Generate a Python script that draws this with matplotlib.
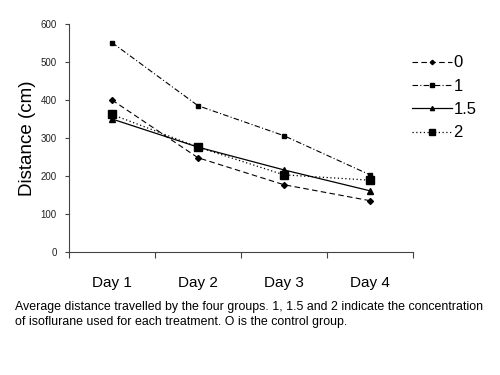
import matplotlib
matplotlib.use("Agg")
import matplotlib.pyplot as plt
from matplotlib.ticker import FixedLocator

plt.rcParams['font.family'] = ['Liberation Sans', 'DejaVu Sans']

days = ["Day 1", "Day 2", "Day 3", "Day 4"]
series_names = ["0", "1", "1.5", "2"]
s0 = [400, 248, 177, 135]
s1 = [551, 385, 306, 203]
s15 = [350, 276, 216, 161]
s2 = [362, 276, 203, 189]

fig = plt.figure(figsize=(5, 3.75), dpi=100)
ax = fig.add_axes([0.138, 0.328, 0.688, 0.608])

x = list(range(len(days)))
h0, = ax.plot(x, s0, color='black', lw=0.8, ls=(0, (5, 3)), marker='D', ms=3, label=series_names[0])
h1, = ax.plot(x, s1, color='black', lw=0.8, ls=(0, (5, 2, 1, 2)), marker='s', ms=3.5, label=series_names[1])
h2, = ax.plot(x, s15, color='black', lw=0.9, ls='-', marker='^', ms=4, label=series_names[2])
h3, = ax.plot(x, s2, color='black', lw=0.9, ls=(0, (1, 2)), marker='s', ms=6, label=series_names[3])

ax.set_xlim(-0.5, 3.5)
ax.set_ylim(0, 600)
ax.set_yticks([0, 100, 200, 300, 400, 500, 600])
ax.tick_params(axis='y', labelsize=7, length=3, width=0.8, color='#444444', pad=6, labelcolor='#222222')
ax.xaxis.set_major_locator(FixedLocator([-0.5, 0.5, 1.5, 2.5, 3.5]))
ax.xaxis.set_minor_locator(FixedLocator(x))
ax.set_xticklabels([], minor=False)
ax.set_xticklabels(days, minor=True)
ax.tick_params(axis='x', which='major', length=4, width=0.8, color='#444444')
ax.tick_params(axis='x', which='minor', length=0, labelsize=11, pad=17)
for s in ['top', 'right']:
    ax.spines[s].set_visible(False)
for s in ['left', 'bottom']:
    ax.spines[s].set_color('#444444')
    ax.spines[s].set_linewidth(0.8)

ax.set_ylabel("Distance (cm)", fontsize=13.5, labelpad=3)

leg = fig.legend(handles=[h0, h1, h2, h3], loc='upper left', bbox_to_anchor=(0.81, 0.87),
                 frameon=False, fontsize=12, handlelength=2.4, handletextpad=0.1,
                 labelspacing=0.5, borderaxespad=0, markerscale=0.75)

fig.text(0.03, 0.125, "Average distance travelled by the four groups. 1, 1.5 and 2 indicate the concentration\nof isoflurane used for each treatment. O is the control group.",
         fontsize=8.9, va='bottom', ha='left', linespacing=1.3)

fig.savefig("out.png", dpi=100)
